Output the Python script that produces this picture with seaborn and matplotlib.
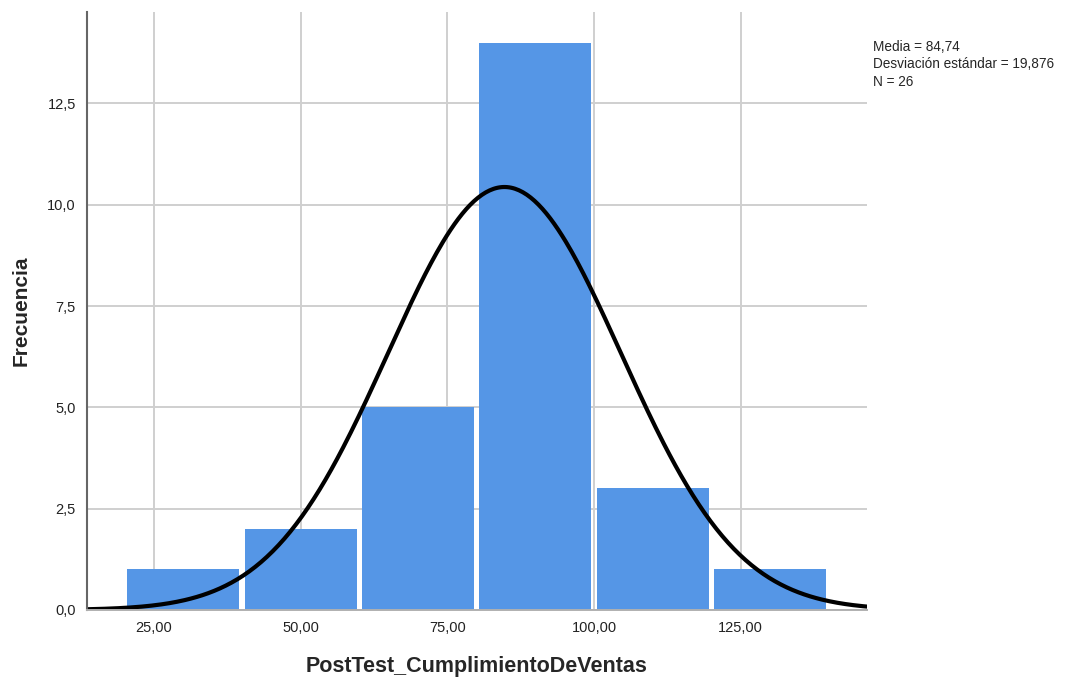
import numpy as np
import pandas as pd
import matplotlib
matplotlib.use("Agg")
import matplotlib.pyplot as plt
import seaborn as sns
from matplotlib.ticker import FuncFormatter

# histogram data
bin_edges = [20, 40, 60, 80, 100, 120, 140]
counts = [1, 2, 5, 14, 3, 1]
media = 84.74
desviacion = 19.876
n_total = 26

x_ticks = [25, 50, 75, 100, 125]
y_ticks = [0, 2.5, 5, 7.5, 10, 12.5]

sns.set_style("white")
plt.rcParams["font.family"] = ["Liberation Sans", "DejaVu Sans"]

centres = [(a + b) / 2 for a, b in zip(bin_edges[:-1], bin_edges[1:])]
df = pd.DataFrame({"valor": centres, "n": counts})

fig = plt.figure(figsize=(10.8, 6.8), dpi=100)
ax = fig.add_axes([0.0806, 0.103, 0.722, 0.879])

ax.set_axisbelow(True)
ax.grid(True, color="#cfcfcf", linewidth=1.4)

sns.histplot(data=df, x="valor", weights="n", bins=bin_edges, ax=ax,
             color="#5596e6", alpha=1, linewidth=0, shrink=0.955)

# normal curve scaled to the histogram
xs = np.linspace(13.6, 146.5, 400)
bw = bin_edges[1] - bin_edges[0]
ys = n_total * bw * np.exp(-0.5 * ((xs - media) / desviacion) ** 2) / (desviacion * np.sqrt(2 * np.pi))
sns.lineplot(x=xs, y=ys, ax=ax, color="black", linewidth=3)

ax.set_xlim(13.6, 146.5)
ax.set_ylim(0, 14.75)
ax.set_xticks(x_ticks)
ax.set_yticks(y_ticks)
ax.xaxis.set_major_formatter(FuncFormatter(lambda v, p: f"{v:.2f}".replace(".", ",")))
ax.yaxis.set_major_formatter(FuncFormatter(lambda v, p: f"{v:.1f}".replace(".", ",")))
ax.tick_params(axis="both", length=0, labelsize=10.5, colors="#222222", pad=8)

for s in ["top", "right"]:
    ax.spines[s].set_visible(False)
ax.spines["left"].set_color("#666666")
ax.spines["left"].set_linewidth(1.5)
ax.spines["bottom"].set_color("#b0b0b0")
ax.spines["bottom"].set_linewidth(1.4)

ax.set_xlabel("PostTest_CumplimientoDeVentas", fontsize=15.5, fontweight="bold", labelpad=15)
ax.set_ylabel("Frecuencia", fontsize=15, fontweight="bold", labelpad=12)

fig.text(0.808, 0.941,
         "Media = 84,74\nDesviación estándar = 19,876\nN = 26",
         fontsize=9.8, va="top", ha="left", linespacing=1.3)

fig.savefig("out.png", dpi=100)
